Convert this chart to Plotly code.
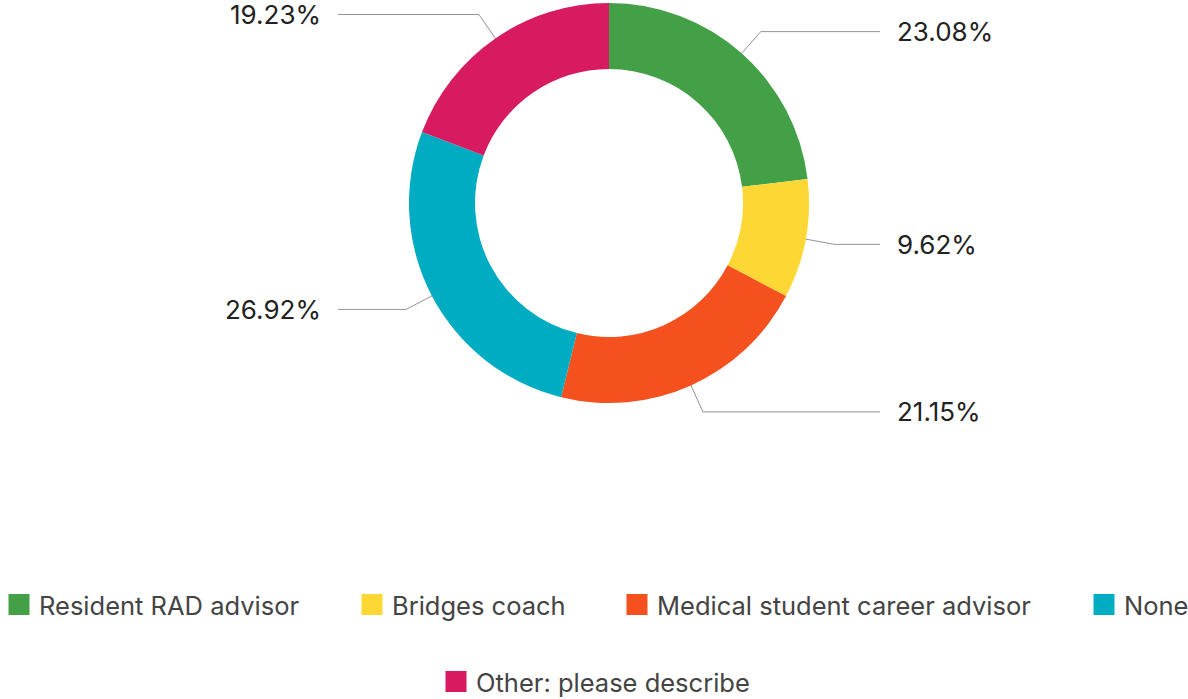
import math
import plotly.graph_objects as go

# ---- data ----
categories = ["Resident RAD advisor", "Bridges coach", "Medical student career advisor", "None", "Other: please describe"]
percents = [23.08, 9.62, 21.15, 26.92, 19.23]
colors = ["#43A047", "#FDD835", "#F4511E", "#00ACC1", "#D81B60"]

# ---- layout constants (pixels) ----
W, H = 1188, 699
CX, CY = 609, 203
R_OUT, R_IN = 200, 134
R_START, R_ELBOW = 167, 229
X_LINE_END, X_TEXT = 271, 286
FONT = "Inter"

fig = go.Figure()

fig.add_trace(go.Pie(
    labels=categories, values=percents, sort=False, direction="clockwise", rotation=0,
    hole=R_IN / R_OUT, textinfo="none", hoverinfo="label+percent",
    marker=dict(colors=colors, line=dict(width=0)),
    domain=dict(x=[(CX - R_OUT) / W, (CX + R_OUT) / W], y=[1 - (CY + R_OUT) / H, 1 - (CY - R_OUT) / H]),
    showlegend=False,
))

# leader lines and labels computed from the data
total = sum(percents)
cum = 0.0
annotations = []
for p, c in zip(percents, colors):
    mid = (cum + p / 2) / total * 2 * math.pi
    cum += p
    s, co = math.sin(mid), math.cos(mid)
    x0, y0 = CX + R_START * s, CY - R_START * co
    x1, y1 = CX + R_ELBOW * s, CY - R_ELBOW * co
    right = s >= 0
    x2 = CX + X_LINE_END if right else CX - X_LINE_END
    fig.add_trace(go.Scatter(x=[x0, x1, x2], y=[y0, y1, y1], mode="lines",
                             line=dict(color="rgba(110,110,110,0.75)", width=1),
                             hoverinfo="skip", showlegend=False, xaxis="x", yaxis="y"))
    annotations.append(dict(x=CX + X_TEXT if right else CX - X_TEXT, y=y1, xref="x", yref="y",
                            text=f"{p:.2f}%", showarrow=False,
                            xanchor="left" if right else "right", yanchor="middle",
                            font=dict(family=FONT, size=26, color="#222222")))

# legend entries (one legend per entry to match spacing)
legend_pos = [(5, 605), (358, 605), (623, 605), (1090, 605), (442, 682)]
legend_names = ["legend", "legend2", "legend3", "legend4", "legend5"]
legend_layout = {}
for name, c, ln, (lx, ly) in zip(categories, colors, legend_names, legend_pos):
    fig.add_trace(go.Scatter(x=[None], y=[None], mode="markers", name=name,
                             marker=dict(symbol="square", size=16, color=c, line=dict(color=c, width=5)),
                             legend=ln, showlegend=True, xaxis="x", yaxis="y"))
    legend_layout[ln] = dict(x=(lx - 6) / W, xanchor="left", y=1 - ly / H, yanchor="middle",
                             orientation="h", bgcolor="rgba(0,0,0,0)", borderwidth=0,
                             font=dict(family=FONT, size=25.5, color="#444444"))

fig.update_layout(
    width=W, height=H, autosize=False,
    margin=dict(l=0, r=0, t=0, b=0, autoexpand=False),
    paper_bgcolor="white", plot_bgcolor="rgba(0,0,0,0)",
    xaxis=dict(range=[0, W], visible=False, fixedrange=True),
    yaxis=dict(range=[H, 0], visible=False, fixedrange=True),
    annotations=annotations,
    **legend_layout,
)

fig.write_html("out.html", config={"responsive": False, "displayModeBar": False},
               post_script="document.body.style.margin='0';document.body.style.overflow='hidden';")
